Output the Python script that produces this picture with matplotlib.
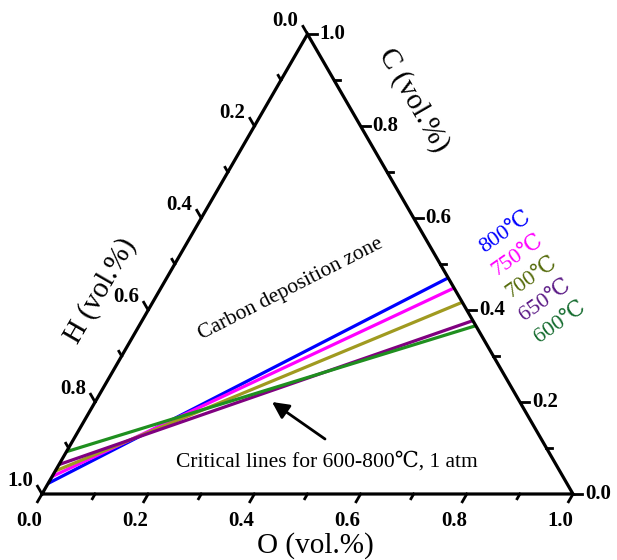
import numpy as np
import matplotlib.pyplot as plt

plt.rcParams['font.family'] = ['Liberation Serif', 'DejaVu Serif', 'Noto Sans CJK SC']

# critical lines, C fraction where each line meets the H axis (O=0) and the C axis (H=0)
temps = ['800℃', '750℃', '700℃', '650℃', '600℃']
c_left = [0.023, 0.038, 0.050, 0.064, 0.092]
c_right = [0.470, 0.448, 0.417, 0.377, 0.366]
line_colors = ['#0000FF', '#FF00FF', '#A09A20', '#800080', '#1F8F1F']
text_colors = ['#0000FF', '#FF00FF', '#556B0B', '#5B1A86', '#146B2E']
tick_vals = np.round(np.arange(0, 1.01, 0.1), 1)

W, H = 617, 560
S = 531.0          # pixels per unit side
X0, Y0 = 42, 494   # bottom-left corner in pixels
SQ3 = np.sqrt(3) / 2


def tern(c, h, o):
    return o + 0.5 * c, SQ3 * c


def pix(px, py):
    return (px - X0) / S, (Y0 - py) / S


fig = plt.figure(figsize=(W / 100, H / 100), dpi=100)
ax = fig.add_axes([0, 0, 1, 1])
ax.set_xlim(-X0 / S, (W - X0) / S)
ax.set_ylim(-(H - Y0) / S, Y0 / S)
ax.axis('off')

# critical lines
for cl, cr, col in zip(c_left, c_right, line_colors):
    xa, ya = tern(cl, 1 - cl, 0)
    xb, yb = tern(cr, 0, 1 - cr)
    ax.plot([xa, xb], [ya, yb], color=col, lw=2.3, zorder=2, solid_capstyle='butt')

# triangle frame
tri = [tern(0, 1, 0), tern(0, 0, 1), tern(1, 0, 0), tern(0, 1, 0)]
ax.plot([p[0] for p in tri], [p[1] for p in tri], color='k', lw=2.3, zorder=3,
        solid_joinstyle='miter')

lab = dict(fontsize=15, fontweight='bold', color='k')
for i, v in enumerate(tick_vals):
    major = i % 2 == 0
    L = (9 if major else 5.5) / S
    # bottom axis (O)
    x, y = tern(0, 1 - v, v)
    d = (-0.5, -SQ3)
    ax.plot([x, x + L * d[0]], [y, y + L * d[1]], color='k', lw=2.0, zorder=3)
    if major:
        ax.text(x - 13 / S, y - 27 / S, f'{v:.1f}', ha='center', va='center', **lab)
    # left axis (H)
    x, y = tern(1 - v, v, 0)
    d = (-0.5, SQ3)
    ax.plot([x, x + L * d[0]], [y, y + L * d[1]], color='k', lw=2.0, zorder=3)
    if major:
        ax.text(x - 9 / S, y + 13 / S, f'{v:.1f}', ha='right', va='center', **lab)
    # right axis (C)
    x, y = tern(v, 0, 1 - v)
    ax.plot([x, x + L], [y, y], color='k', lw=2.0, zorder=3)
    if major:
        ax.text(x + 12 / S, y, f'{v:.1f}', ha='left', va='center', **lab)

# axis titles
ax.text(*pix(315, 546), 'O (vol.%)', fontsize=21, ha='center', va='center')
ax.text(*pix(100, 291), 'H (vol.%)', fontsize=21, ha='center', va='center', rotation=60)
ax.text(*pix(413, 100), 'C (vol.%)', fontsize=21, ha='center', va='center', rotation=-60)

ax.text(*pix(291, 289), 'Carbon deposition zone', fontsize=15.5, ha='center', va='center',
        rotation=27, rotation_mode='anchor')
ax.text(*pix(327, 462), 'Critical lines for 600-800℃, 1 atm', fontsize=15.5,
        ha='center', va='center')
ax.annotate('', xy=pix(272, 402), xytext=pix(325, 439),
            arrowprops=dict(arrowstyle='-|>,head_length=1.0,head_width=0.5',
                            color='k', lw=2.0, shrinkA=0, shrinkB=0))

temp_pos = [(505, 232), (518, 255), (532, 277), (545, 300), (560, 322)]
for t, col, (px, py) in zip(temps, text_colors, temp_pos):
    ax.text(*pix(px, py), t, color=col, fontsize=16, ha='center', va='center',
            rotation=35, rotation_mode='anchor')

fig.savefig('out.png', dpi=100)
